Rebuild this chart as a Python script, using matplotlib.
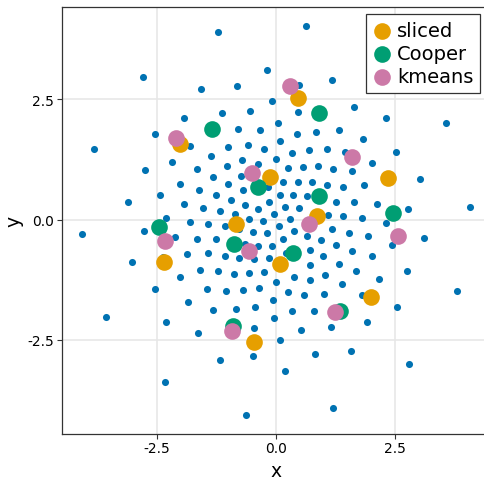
import matplotlib
matplotlib.use("Agg")
import matplotlib.pyplot as plt

# colours (Wong palette)
BLUE = "#0072B2"
COLORS = {"sliced": "#E69F00", "Cooper": "#009E73", "kmeans": "#CC79A7"}

# reference sample (small blue dots)
ref_x = [
    -0.08, -1.93, -1.14, -0.54, 0.45, 1.63, 2.30, -2.55, -0.81, -0.34,
    0.04, 0.44, 0.83, 1.31, 1.83, 2.51, -1.81, -1.02, -0.60, -0.26,
    0.07, 0.34, 0.68, 1.06, 1.44, -2.18, -1.37, -0.72, -1.04, -0.39,
    0.00, -1.67, -1.33, 0.24, 0.56, 0.87, 1.20, 1.58, 2.00, -0.74,
    -2.02, -1.00, 0.14, 0.45, 0.76, 1.07, 1.40, 1.84, -2.44, -1.61,
    -1.27, -0.70, -0.17, 0.08, 0.36, 0.65, -1.93, -1.53, -1.18, -0.95,
    -0.65, -0.38, -0.15, 0.18, 0.47, 1.25, 1.64, 2.11, -2.31, -1.81,
    -1.42, -0.86, -0.58, -0.28, -0.05, 0.28, 0.05, 1.08, 1.41, 1.79,
    2.30, -2.13, -1.65, -1.26, -1.07, -0.78, -0.48, -0.19, 0.14, 0.37,
    0.64, 0.94, 1.18, 1.52, 1.92, 2.43, -1.42, -1.86, -0.65, -0.38,
    -0.09, 0.21, 0.70, 0.98, 1.26, 1.60, 2.00, -2.38, -1.07, -0.77,
    -0.46, -0.15,
    0.71, 1.32, -1.60, -1.21, -0.88, -0.56, -0.25, 0.38, 0.71, 1.03,
    1.67, 2.16, -2.01, -2.53, -1.46, -1.06, -0.69, -0.35, 0.00, 0.25,
    0.59, 1.01, 1.37, 1.79, -1.84, -1.33, -0.84, -0.44, -0.07, 0.33,
    0.80, 1.91, 2.54, -2.32, -1.63, -0.47, -0.05, 0.53, 1.14, 0.07,
    -2.79, -1.58, -3.81, -1.21, 0.62, -0.20, 1.18, -0.82, 0.47, 3.55,
    -2.76, -3.10, -4.08, -2.78, -3.02, 3.01, 2.76, 4.06, 3.09, 2.75,
    3.79, -3.57, -2.33, -1.18, -0.48, 0.81, 0.18, -0.63, 1.19, 1.57,
    2.78,
]
ref_y = [
    2.47, 2.11, 2.21, 2.27, 2.23, 2.34, 2.11, 1.78, 1.88, 1.87,
    2.02, 1.78, 1.82, 1.87, 1.67, 1.41, 1.54, 1.52, 1.55, 1.48,
    1.63, 1.39, 1.44, 1.46, 1.40, 1.21, 1.32, 1.24, 1.11, 1.16,
    1.26, 1.05, 0.89, 1.07, 1.10, 1.11, 1.05, 1.01, 1.18, 0.91,
    0.75, 0.74, 0.79, 0.79, 0.79, 0.73, 0.67, 0.72, 0.51, 0.62,
    0.51, 0.61, 0.68, 0.52, 0.52, 0.50, 0.32, 0.25, 0.18, 0.41,
    0.31, 0.23, 0.37, 0.26, 0.24, 0.37, 0.37, 0.33, 0.04, -0.05,
    -0.08, 0.11, 0.02, -0.03, 0.11, 0.01, -0.14, 0.10, 0.07, 0.03,
    -0.07, -0.36, -0.40, -0.40, -0.14, -0.20, -0.26, -0.28, -0.40, -0.24,
    -0.33, -0.43, -0.20, -0.27, -0.34, -0.53, -0.70, -0.72, -0.51, -0.55,
    -0.55, -0.70, -0.63, -0.76, -0.53, -0.64, -0.76, -0.78, -0.76, -0.80,
    -0.82, -0.80,
    -0.94, -0.91, -1.04, -1.07, -1.12, -1.11, -1.09, -1.19, -1.26, -1.14,
    -1.07, -1.23, -1.20, -1.43, -1.43, -1.48, -1.46, -1.41, -1.29, -1.50,
    -1.57, -1.54, -1.34, -1.56, -1.70, -1.88, -1.85, -1.81, -1.66, -1.90,
    -1.90, -2.13, -1.82, -2.13, -2.36, -2.26, -2.04, -2.29, -2.23, -2.50,
    2.97, 2.71, 1.48, 3.90, 4.02, 3.12, 2.90, 2.77, 2.81, 2.01,
    1.04, 0.36, -0.29, -0.24, -0.88, 0.85, 0.22, 0.26, -0.38, -1.07,
    -1.49, -2.03, -3.37, -2.92, -2.83, -2.79, -3.14, -4.05, -3.92, -2.72,
    -3.00,
]

# quantization results
sliced_x = [-2.02, 0.45, 2.35, -0.12, -0.84, 0.86, -2.35, 0.08, 1.98, -0.46]
sliced_y = [1.57, 2.53, 0.86, 0.89, -0.08, 0.07, -0.88, -0.93, -1.60, -2.54]

cooper_x = [-1.34, 0.89, -0.38, 0.89, -2.46, 2.45, -0.89, 0.36, 1.33, -0.90]
cooper_y = [1.89, 2.21, 0.68, 0.49, -0.15, 0.13, -0.51, -0.69, -1.89, -2.21]

kmeans_x = [-2.09, 0.28, 1.59, -0.50, 0.69, -2.34, 2.55, -0.57, 1.23, -0.93]
kmeans_y = [1.69, 2.77, 1.31, 0.97, -0.08, -0.44, -0.34, -0.66, -1.91, -2.31]

ticks = [-2.5, 0.0, 2.5]
tick_labels = ["-2.5", "0.0", "2.5"]

plt.rcParams["font.family"] = ["DejaVu Sans"]

fig = plt.figure(figsize=(4.85, 4.81), dpi=100)
# right edge of the frame falls just outside the picture, as in the reference
ax = fig.add_axes([62 / 485, 1 - 434.8 / 481, 427.4 / 485, 426.7 / 481])

ax.scatter(ref_x, ref_y, s=26, color=BLUE, linewidths=0, zorder=2)
ax.scatter(sliced_x, sliced_y, s=144, color=COLORS["sliced"], linewidths=0,
           label="sliced", zorder=3)
ax.scatter(cooper_x, cooper_y, s=144, color=COLORS["Cooper"], linewidths=0,
           label="Cooper", zorder=4)
ax.scatter(kmeans_x, kmeans_y, s=144, color=COLORS["kmeans"], linewidths=0,
           label="kmeans", zorder=5)

ax.set_xlim(-4.49, 4.47)
ax.set_ylim(-4.45, 4.42)
ax.set_xticks(ticks, tick_labels)
ax.set_yticks(ticks, tick_labels)
ax.tick_params(labelsize=10, length=3.5, width=0.8, color="#333333", pad=2)
ax.grid(True, color="#e6e6e6", linewidth=1.1, zorder=0)
ax.set_axisbelow(True)
for sp in ax.spines.values():
    sp.set_color("#333333")
    sp.set_linewidth(0.9)

ax.set_xlabel("x", fontsize=13.5, labelpad=4)
ax.set_ylabel("y", fontsize=13.5, labelpad=3)

leg = ax.legend(loc="upper right", bbox_to_anchor=(480 / 485, 1 - 15.3 / 481),
                bbox_transform=fig.transFigure, borderaxespad=0,
                fontsize=14, fancybox=False, framealpha=1, edgecolor="#333333",
                handlelength=1.0, handletextpad=0.25, labelspacing=0.2,
                borderpad=0.35, scatterpoints=1)
leg.get_frame().set_linewidth(0.9)

fig.savefig("out.png", dpi=100)
